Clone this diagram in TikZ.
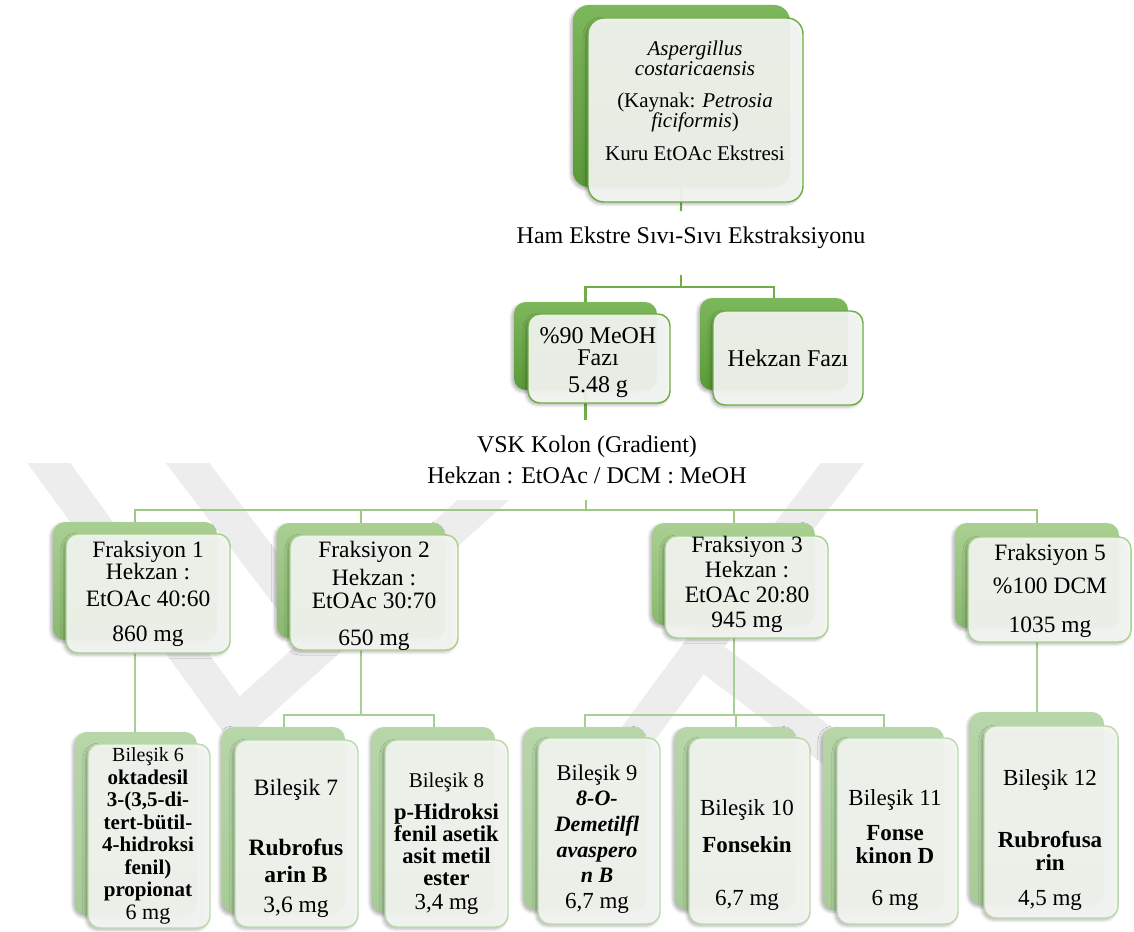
\documentclass[tikz,border=0pt]{standalone}
\usepackage{fontspec}
\setmainfont{Liberation Serif}
\usetikzlibrary{fit,shadows.blur}

\definecolor{gA}{HTML}{70AD47}
\definecolor{gAtop}{HTML}{7DB75C}
\definecolor{gAbot}{HTML}{5A9A38}
\definecolor{gB}{HTML}{A9D18E}
\definecolor{gBtop}{HTML}{A9CF92}
\definecolor{gBbot}{HTML}{8AB96E}
\definecolor{gBline}{HTML}{9DC983}
\definecolor{gC}{HTML}{BAD9AC}
\definecolor{gCtop}{HTML}{B7D6A9}
\definecolor{gCbot}{HTML}{A7CB96}
\definecolor{gCline}{HTML}{A9CF96}
\definecolor{panel}{HTML}{F4F7F2}
\definecolor{wmgray}{HTML}{EDEDED}

\newcommand\fsz[2]{\fontsize{#1}{#2}\selectfont}

\pgfdeclarelayer{wmlayer}
\pgfdeclarelayer{connlayer}
\pgfsetlayers{wmlayer,connlayer,main}

\tikzset{
  x=0.75pt, y=-0.75pt,
  sh/.style={blur shadow={shadow xshift=-1.6pt, shadow yshift=-1.6pt,
      shadow blur radius=2.2pt, shadow opacity=30}},
  card/.style={rectangle, inner sep=0pt, rounded corners=9pt},
  backA/.style={card, rounded corners=12pt, top color=gAtop, bottom color=gAbot, sh},
  frontA/.style={card, rounded corners=12pt, draw=gA, line width=1.1pt, fill=panel, fill opacity=.93, sh},
  backB/.style={card, top color=gBtop, bottom color=gBbot, sh},
  frontB/.style={card, draw=gB, line width=1.1pt, fill=panel, fill opacity=.93, sh},
  backC/.style={card, top color=gCtop, bottom color=gCbot, sh},
  frontC/.style={card, draw=gC, line width=1.1pt, fill=panel, fill opacity=.93, sh},
  connA/.style={draw=gA, line width=1.6pt},
  connB/.style={draw=gBline, line width=1.5pt},
  connC/.style={draw=gCline, line width=1.5pt},
  lbl/.style={align=center, inner sep=0pt, text=black},
  wmband/.style={draw=wmgray, line width=26pt, line join=miter},
}

\begin{document}
\begin{tikzpicture}
\useasboundingbox (0,0) rectangle (1134,931);

% ---------- level 0 ----------
\node (b0) [backA, fit={(573,5) (790,187)}] {};
\node (f0) [frontA, fit={(588,18) (803,202)}] {};
\node (t0) [lbl, font=\fsz{15.75}{15}] at (695,100.5)
  {\textit{Aspergillus}\\ \textit{costaricaensis}\\[9pt]
   (Kaynak: \textit{Petrosia}\\ \textit{ficiformis})\\[9.75pt]
   Kuru EtOAc Ekstresi};

\node (ham) [lbl, font=\fsz{18}{21}] at (691,238) {Ham Ekstre Sıvı-Sıvı Ekstraksiyonu};
\coordinate (c0a) at (681,211);
\coordinate (c0b) at (681,275);
\coordinate (j0) at (681,287);

\node (bM) [backA, rounded corners=9pt, fit={(514,302) (657,390)}] {};
\node (fM) [frontA, rounded corners=9pt, fit={(528,314) (670,403)}] {};
\node (tM) [lbl, font=\fsz{18}{16.5}] at (598,362.5) {\%90 MeOH\\ Fazı\\[3.75pt] 5.48 g};

\node (bH) [backA, rounded corners=9pt, fit={(700,298) (848,390)}] {};
\node (fH) [frontA, rounded corners=9pt, fit={(713,311) (863,405)}] {};
\node (tH) [lbl, font=\fsz{18}{21}] at (788,358) {Hekzan Fazı};

% ---------- column ----------
\node (vsk) [lbl, fill=white, minimum width=258.75pt, minimum height=60pt, font=\fsz{18}{23.25}]
  at (587,460) {VSK Kolon (Gradient)\\ Hekzan : EtOAc / DCM : MeOH};
\coordinate (j1) at (585.5,510);

% ---------- fractions ----------
\node (bF1) [backB, fit={(53,522) (217,640)}] {};
\node (fF1) [frontB, fit={(66,534) (230,653)}] {};
\node (tF1) [lbl, font=\fsz{17.6}{15}] at (148,594)
  {Fraksiyon 1\\ Hekzan :\\[5.25pt] EtOAc 40:60\\[11.25pt] 860 mg};

\node (bF2) [backB, fit={(277,523) (445,638)}] {};
\node (fF2) [frontB, fit={(290,535) (458,650)}] {};
\node (tF2) [lbl, font=\fsz{17.6}{17.25}] at (374,596)
  {Fraksiyon 2\\[3.75pt] Hekzan :\\ EtOAc 30:70\\[10.5pt] 650 mg};

\node (bF3) [backB, fit={(652,523) (815,625)}] {};
\node (fF3) [frontB, fit={(665,536) (828,638)}] {};
\node (tF3) [lbl, font=\fsz{17.6}{18.75}] at (747,584.5)
  {Fraksiyon 3\\ Hekzan :\\ EtOAc 20:80\\ 945 mg};

\node (bF5) [backB, fit={(955,523) (1119,628)}] {};
\node (fF5) [frontB, fit={(968,537) (1131,642)}] {};
\node (tF5) [lbl, font=\fsz{17.6}{24.75}] at (1050,591)
  {Fraksiyon 5\\ \%100 DCM\\[4.5pt] 1035 mg};

\coordinate (j2) at (361,715);
\coordinate (j3) at (733.5,715);

% ---------- compounds ----------
\node (bB6) [backC, fit={(75,732) (197,915)}] {};
\node (fB6) [frontC, fit={(88,744) (210,928)}] {};
\node (tB6) [lbl, font=\fsz{15.75}{16.9}\bfseries] at (148,836)
  {{\fsz{15}{16.9}\mdseries Bileşik 6}\\ oktadesil\\ 3-(3,5-di-\\ tert-bütil-\\
   4-hidroksi\\ fenil)\\ propionat\\ {\fsz{16.5}{16.9}\mdseries 6 mg}};

\node (bB7) [backC, fit={(222,727) (345,913)}] {};
\node (fB7) [frontC, fit={(235,740) (358,927)}] {};
\node (tB7) [lbl, font=\fsz{17.6}{20.25}] at (296,848.5)
  {Bileşik 7\\[24.75pt] \textbf{Rubrofus}\\ \textbf{arin B}\\[2.25pt] 3,6 mg};

\node (bB8) [backC, fit={(372,727) (495,913)}] {};
\node (fB8) [frontC, fit={(385,740) (508,927)}] {};
\node (tB8) [lbl, font=\fsz{16.9}{16.5}\bfseries] at (446.5,844)
  {{\fsz{15.75}{16.5}\mdseries Bileşik 8}\\[7.5pt] p-Hidroksi\\ fenil asetik\\ asit metil\\ ester\\[1.5pt]
   {\fsz{17.25}{16.5}\mdseries 3,4 mg}};

\node (bB9) [backC, fit={(524,727) (646,910)}] {};
\node (fB9) [frontC, fit={(538,738) (660,924)}] {};
\node (tB9) [lbl, font=\fsz{16.5}{19.2}\bfseries\itshape] at (597,839)
  {{\fsz{16.9}{19.2}\mdseries\upshape Bileşik 9}\\ 8-O-\\ Demetilfl\\ avaspero\\ n B\\
   {\fsz{17.25}{19.2}\mdseries\upshape 6,7 mg}};

\node (bB10) [backC, fit={(675,727) (796,910)}] {};
\node (fB10) [frontC, fit={(689,738) (810,924)}] {};
\node (tB10) [lbl, font=\fsz{17.25}{27.75}] at (747,855)
  {Bileşik 10\\ \textbf{Fonsekin}\\[12pt] 6,7 mg};

\node (bB11) [backC, fit={(823,727) (944,910)}] {};
\node (fB11) [frontC, fit={(837,738) (958,924)}] {};
\node (tB11) [lbl, font=\fsz{17.25}{17.25}] at (895,850)
  {Bileşik 11\\[9pt] \textbf{Fonse}\\ \textbf{kinon D}\\[14.25pt] 6 mg};

\node (bB12) [backC, fit={(970,712) (1104,905)}] {};
\node (fB12) [frontC, fit={(984,726) (1118,918)}] {};
\node (tB12) [lbl, font=\fsz{17.25}{17.25}] at (1050,840)
  {Bileşik 12\\[29.25pt] \textbf{Rubrofusa}\\ \textbf{rin}\\[9pt] 4,5 mg};

% ---------- connectors ----------
\begin{pgfonlayer}{connlayer}
  \draw[connA] (b0.south) -- (c0a);
  \draw[connA] (c0b) -- (j0) -| (bM.north);
  \draw[connA] (j0) -| (bH.north);
  \draw[connA] (bM.south) -- (bM.south |- vsk.north);
  \draw[connB] (bM.south |- vsk.south) -- (j1);
  \draw[connB] (bF1.north) |- (j1) -| (bF5.north);
  \draw[connB] (j1 -| bF2.north) -- (bF2.north);
  \draw[connB] (j1 -| bF3.north) -- (bF3.north);
  \draw[connC] (bF1.south) -- (bF1.south |- bB6.north);
  \draw[connC] (bF2.south) -- (j2);
  \draw[connC] (bB7.north) |- (j2) -| (bB8.north);
  \draw[connC] (bF3.south) -- (j3);
  \draw[connC] (bB9.north) |- (j3) -| (bB11.north);
  \draw[connC] (j3 -| bB10.north) -- (bB10.north);
  \draw[connC] (bF5.south) -- (bF5.south |- bB12.north);
\end{pgfonlayer}

% ---------- background emblem ----------
\begin{pgfonlayer}{wmlayer}
  \begin{scope}
    \clip (0,463) rectangle (1134,880);
    \draw[wmband] (32,440) -- (237,722) -- (550,440);
    \draw[wmband] (170,440) -- (330,650);
    \draw[wmband] (860,440) -- (700,650) -- (560,840);
    \draw[wmband] (700,650) -- (900,800);
  \end{scope}
\end{pgfonlayer}
\end{tikzpicture}
\end{document}
